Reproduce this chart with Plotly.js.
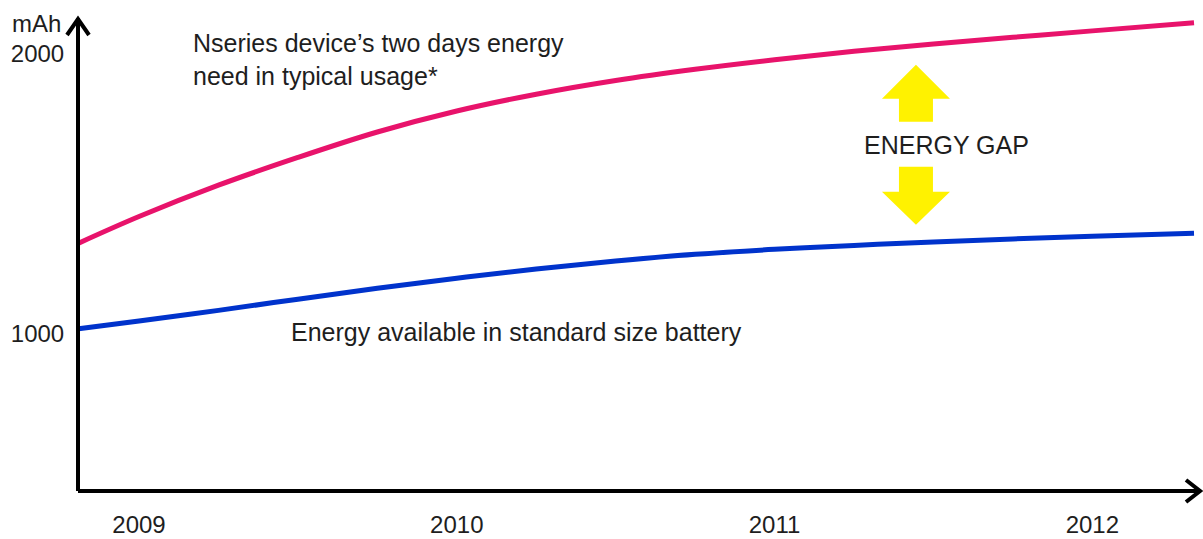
<!DOCTYPE html>
<html>
<head>
<meta charset="utf-8">
<script src="https://cdn.plot.ly/plotly-3.0.1.min.js"></script>
<style>html,body{margin:0;padding:0;background:#fff;}#chart{width:1203px;height:539px;}</style>
</head>
<body>
<div id="chart"></div>
<script>
// ---- data ----
var years = [2008.81, 2009.0, 2009.25, 2009.5, 2009.75, 2010.0, 2010.25, 2010.5, 2010.75, 2011.0, 2011.25, 2011.5, 2011.75, 2012.0, 2012.32];
var needMah = [1310, 1405, 1517, 1616, 1707, 1782, 1842, 1891, 1931, 1965, 1995, 2021, 2045, 2068, 2097];
var availMah = [1004, 1032, 1070, 1110, 1149, 1185, 1218, 1246, 1270, 1288, 1302, 1314, 1325, 1335, 1345];
var xTickVals = [2009, 2010, 2011, 2012];
var xTickText = ['2009', '2010', '2011', '2012'];
var yTickVals = [1000, 2000];
var yTickText = ['1000', '2000'];
var needLabel = 'Nseries device’s two days energy<br>need in typical usage*';
var availLabel = 'Energy available in standard size battery';
var gapLabel = 'ENERGY GAP';
var unitLabel = 'mAh';

var FONT = 'Liberation Sans, Arial, sans-serif';
var TXT = '#1e1e1e';
var FS = 25;

var traces = [
  {x: years, y: needMah, mode: 'lines', line: {color: '#E8136B', width: 5, shape: 'spline', smoothing: 1}, hoverinfo: 'skip', cliponaxis: false},
  {x: years, y: availMah, mode: 'lines', line: {color: '#0033CC', width: 5, shape: 'spline', smoothing: 1}, hoverinfo: 'skip', cliponaxis: false}
];

var gapX = 2011.445, gapY = 1661;
var yellow = '#FFF200';
var shapes = [
  // axes
  {type: 'line', xref: 'paper', yref: 'paper', x0: 0, x1: 1, y0: 0, y1: 0, line: {color: '#000', width: 4}},
  {type: 'line', xref: 'paper', yref: 'paper', x0: 0, x1: 0, y0: 0, y1: 1, line: {color: '#000', width: 4}},
  // arrow heads (chevrons), pixel-sized, anchored at axis ends
  {type: 'path', xref: 'paper', yref: 'paper', xsizemode: 'pixel', ysizemode: 'pixel', xanchor: 1, yanchor: 0,
   path: 'M -15 11 L -1 0 L -15 -11', line: {color: '#000', width: 4}},
  {type: 'path', xref: 'paper', yref: 'paper', xsizemode: 'pixel', ysizemode: 'pixel', xanchor: 0, yanchor: 1,
   path: 'M -11 -17 L 0 -1 L 11 -17', line: {color: '#000', width: 4}},
  // energy gap arrows
  {type: 'path', xref: 'x', yref: 'y', xsizemode: 'pixel', ysizemode: 'pixel', xanchor: gapX, yanchor: gapY,
   path: 'M -17 23 L -17 46 L -34 46 L 0 80 L 34 46 L 17 46 L 17 23 Z', fillcolor: yellow, line: {width: 0}},
  {type: 'path', xref: 'x', yref: 'y', xsizemode: 'pixel', ysizemode: 'pixel', xanchor: gapX, yanchor: gapY,
   path: 'M -17 -22 L -17 -47 L -34 -47 L 0 -80 L 34 -47 L 17 -47 L 17 -22 Z', fillcolor: yellow, line: {width: 0}}
];

var annotations = [
  {xref: 'x', yref: 'y', x: 2009.165, y: 1965, text: needLabel, showarrow: false, xanchor: 'left', yanchor: 'middle', align: 'left', font: {family: FONT, size: FS, color: TXT}},
  {xref: 'x', yref: 'y', x: 2009.472, y: 993, text: availLabel, showarrow: false, xanchor: 'left', yanchor: 'middle', font: {family: FONT, size: FS, color: TXT}},
  {xref: 'x', yref: 'y', x: 2011.542, y: gapY, text: gapLabel, showarrow: false, xanchor: 'center', yanchor: 'middle', font: {family: FONT, size: FS, color: TXT}},
  {xref: 'paper', yref: 'y', x: 0, y: 2093, xshift: -15, text: unitLabel, showarrow: false, xanchor: 'right', yanchor: 'middle', font: {family: FONT, size: 24, color: TXT}}
];

var layout = {
  width: 1203, height: 539,
  margin: {l: 78, r: 2, t: 18, b: 48, pad: 0},
  paper_bgcolor: '#fff', plot_bgcolor: '#fff',
  showlegend: false,
  xaxis: {range: [2008.808, 2012.342], tickvals: xTickVals, ticktext: xTickText, showgrid: false, zeroline: false, showline: false,
          ticks: 'outside', ticklen: 12, tickcolor: 'rgba(0,0,0,0)', tickfont: {family: FONT, size: 24, color: TXT}, fixedrange: true},
  yaxis: {range: [425, 2114], tickvals: yTickVals, ticktext: yTickText, showgrid: false, zeroline: false, showline: false,
          ticks: 'outside', ticklen: 8, ticklabelshift: 4, tickcolor: 'rgba(0,0,0,0)', tickfont: {family: FONT, size: 24, color: TXT}, fixedrange: true},
  shapes: shapes,
  annotations: annotations
};

Plotly.newPlot('chart', traces, layout, {displayModeBar: false, staticPlot: true});
</script>
</body>
</html>
